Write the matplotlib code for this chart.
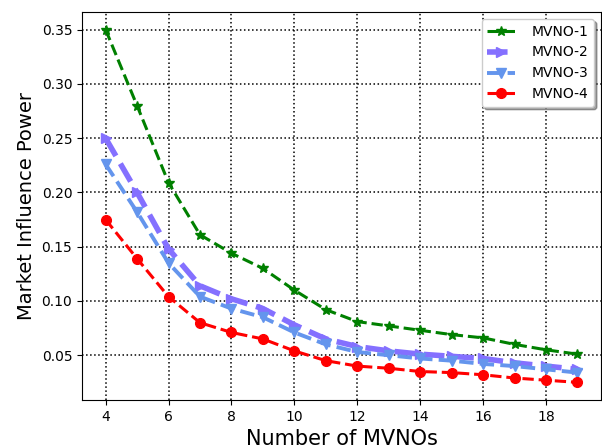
import matplotlib
matplotlib.use("Agg")
import matplotlib.pyplot as plt

n_mvnos = list(range(4, 20))
mvno1 = [0.350, 0.280, 0.209, 0.161, 0.144, 0.130, 0.110, 0.092, 0.081, 0.077, 0.073, 0.069, 0.066, 0.060, 0.055, 0.051]
mvno2 = [0.250, 0.200, 0.148, 0.114, 0.102, 0.093, 0.078, 0.065, 0.058, 0.054, 0.051, 0.049, 0.047, 0.043, 0.040, 0.037]
mvno3 = [0.226, 0.182, 0.135, 0.104, 0.093, 0.085, 0.071, 0.060, 0.053, 0.050, 0.047, 0.045, 0.042, 0.040, 0.037, 0.034]
mvno4 = [0.175, 0.139, 0.104, 0.080, 0.071, 0.065, 0.054, 0.045, 0.040, 0.038, 0.035, 0.034, 0.032, 0.029, 0.027, 0.025]
labels = ["MVNO-1", "MVNO-2", "MVNO-3", "MVNO-4"]

fig = plt.figure(figsize=(6.02, 4.47), dpi=100)
ax = fig.add_axes([82/602, 47/447, 519/602, 388/447])

ax.plot(n_mvnos, mvno1, '--', color='green', lw=2.2, marker='*', ms=7, label=labels[0])
ax.plot(n_mvnos, mvno2, '--', color='#8470FF', lw=4, marker='>', ms=7, label=labels[1])
ax.plot(n_mvnos, mvno3, '--', color='cornflowerblue', lw=2.8, marker='v', ms=7, label=labels[2])
ax.plot(n_mvnos, mvno4, '--', color='red', lw=2.2, marker='o', ms=7, label=labels[3])

ax.grid(True, linestyle=':', color='black', lw=1.1)
ax.set_xticks([4, 6, 8, 10, 12, 14, 16, 18])
ax.set_yticks([0.05, 0.10, 0.15, 0.20, 0.25, 0.30, 0.35])
ax.tick_params(labelsize=10)
ax.set_xlabel("Number of MVNOs", fontsize=15)
ax.set_ylabel("Market Influence Power", fontsize=14)
ax.legend(loc='upper right', shadow=True, fontsize=10, handletextpad=1.2)

fig.savefig("out.png", dpi=100)
